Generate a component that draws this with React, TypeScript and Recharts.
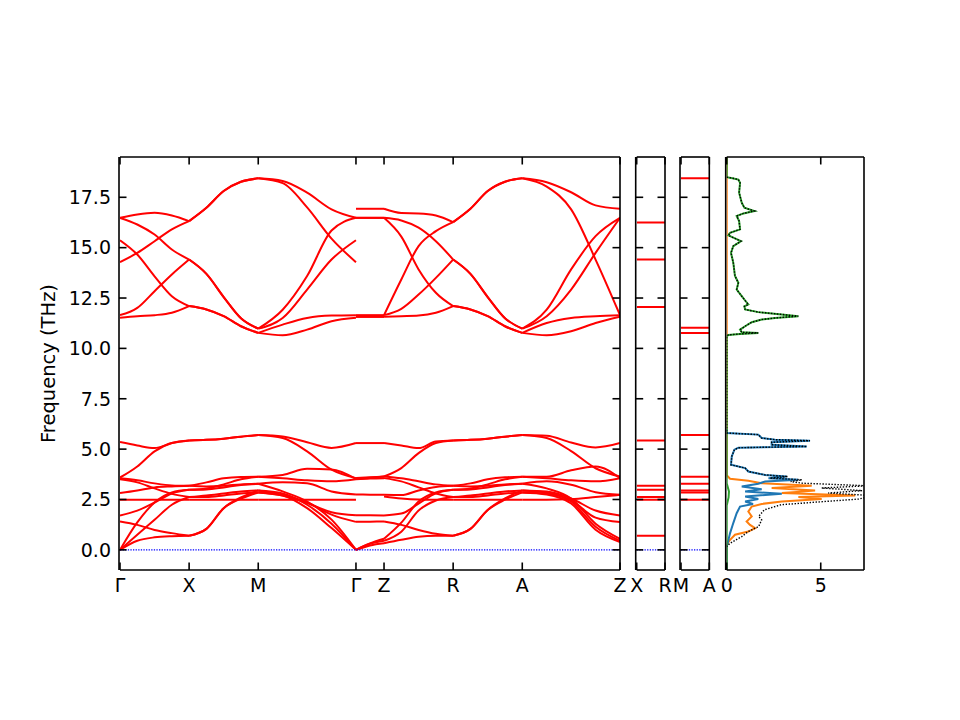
import React from 'react';
import { LineChart, Line, XAxis, YAxis } from 'recharts';

const FONT = '"DejaVu Sans", Verdana, sans-serif';
const RED = '#ff0000';

// frequency axis (THz), shared by all four panels
const FREQ_RANGE: [number, number] = [-1, 19.5];
const FREQ_TICKS = [0, 2.5, 5, 7.5, 10, 12.5, 15, 17.5];

// q-path Γ-X-M-Γ-Z-R-A-Z, distance in units of |Γ-X|
const PATH_LABELS = ['Γ', 'X', 'M', 'Γ', 'Z', 'R', 'A', 'Z'];
const PATH_K = [0, 1, 2, 3.414, 3.82, 4.82, 5.82, 7.234];
const KZ_LEN = 0.406; // X-R and M-A legs

// bands: frequency at evenly spaced q-points along each segment
const GX_BANDS = [
  [16.48, 16.65, 16.73, 16.6, 16.32],
  [14.28, 14.74, 15.32, 15.91, 16.32],
  [16.48, 16.15, 15.65, 14.91, 14.41],
  [15.37, 14.66, 13.58, 12.59, 12.1],
  [11.65, 12.01, 12.84, 13.67, 14.41],
  [11.52, 11.6, 11.65, 11.77, 12.1],
  [5.35, 5.18, 5.05, 5.3, 5.43],
  [3.59, 4.14, 4.89, 5.3, 5.43],
  [3.55, 3.45, 3.3, 3.2, 3.18],
  [3.5, 3.35, 3.05, 2.78, 2.62],
  [2.82, 2.95, 3.1, 3.15, 3.18],
  [2.49, 2.49, 2.49, 2.49, 2.49],
  [1.71, 1.95, 2.35, 2.8, 2.98],
  [1.41, 1.24, 0.99, 0.83, 0.7],
  [0, 0.45, 0.62, 0.68, 0.7],
  [0, 0.75, 1.49, 2.24, 2.62],
  [0, 1.36, 2.35, 2.85, 2.98],
];

const XM_BANDS = [
  [16.32, 16.98, 17.81, 18.27, 18.44],
  [16.32, 16.98, 17.81, 18.27, 18.44],
  [14.41, 13.7, 12.55, 11.5, 10.98],
  [14.41, 13.7, 12.55, 11.5, 10.98],
  [12.1, 11.93, 11.6, 11.1, 10.77],
  [12.1, 11.93, 11.6, 11.1, 10.77],
  [5.43, 5.46, 5.52, 5.62, 5.7],
  [5.43, 5.46, 5.52, 5.62, 5.7],
  [3.18, 3.35, 3.55, 3.62, 3.63],
  [2.62, 2.7, 2.8, 2.9, 2.95],
  [3.18, 3.15, 3.18, 3.25, 3.28],
  [2.49, 2.49, 2.49, 2.49, 2.49],
  [2.98, 3.0, 3.1, 3.22, 3.28],
  [0.7, 1.04, 2.07, 2.6, 2.95],
  [0.7, 1.04, 2.07, 2.54, 2.85],
  [2.62, 2.62, 2.7, 2.8, 2.85],
  [2.98, 3.05, 3.25, 3.5, 3.63],
];

const MG_BANDS = [
  [18.44, 18.31, 17.73, 16.9, 16.48],
  [18.44, 18.2, 17.0, 15.45, 14.28],
  [10.98, 11.92, 13.59, 15.85, 16.48],
  [10.98, 11.51, 12.92, 14.41, 15.37],
  [10.77, 11.18, 11.51, 11.63, 11.65],
  [10.77, 10.65, 10.93, 11.35, 11.52],
  [5.7, 5.63, 5.34, 5.06, 5.3],
  [5.7, 5.55, 4.89, 3.98, 3.56],
  [3.63, 3.72, 4.02, 3.99, 3.52],
  [3.63, 3.55, 3.45, 3.4, 3.5],
  [3.28, 3.35, 3.3, 2.9, 2.75],
  [2.49, 2.49, 2.49, 2.49, 2.49],
  [2.95, 2.73, 2.32, 1.87, 1.72],
  [2.85, 2.7, 2.35, 1.75, 1.39],
  [2.85, 2.7, 2.07, 1.08, 0],
  [2.95, 2.8, 2.24, 1.3, 0],
  [3.28, 2.9, 2.4, 1.5, 0],
];

const GZ_BANDS = [
  [16.93, 16.93, 16.93],
  [16.48, 16.48, 16.48],
  [16.48, 16.48, 16.48],
  [11.65, 11.65, 11.65],
  [11.57, 11.57, 11.57],
  [11.57, 11.57, 11.57],
  [5.3, 5.3, 5.3],
  [3.56, 3.6, 3.64],
  [3.52, 3.58, 3.64],
  [3.5, 3.54, 3.56],
  [2.75, 2.74, 2.73],
  [1.72, 1.72, 1.71],
  [1.39, 1.4, 1.41],
  [0, 0.22, 0.33],
  [0, 0.3, 0.45],
  [0, 0.32, 0.55],
];

const ZR_BANDS = [
  [16.93, 16.72, 16.7, 16.6, 16.27],
  [16.48, 16.35, 15.99, 15.32, 14.41],
  [16.48, 15.55, 13.92, 12.76, 12.1],
  [11.65, 13.42, 15.08, 15.82, 16.27],
  [11.65, 11.96, 12.67, 13.5, 14.41],
  [11.57, 11.6, 11.63, 11.77, 12.1],
  [5.3, 5.18, 5.05, 5.38, 5.43],
  [3.64, 4.06, 4.8, 5.3, 5.43],
  [3.64, 3.55, 3.4, 3.25, 3.18],
  [3.56, 3.4, 3.1, 2.8, 2.62],
  [2.73, 2.72, 2.95, 3.12, 3.18],
  [2.65, 2.55, 2.5, 2.49, 2.49],
  [1.71, 1.8, 2.3, 2.8, 2.98],
  [1.41, 1.24, 0.99, 0.8, 0.7],
  [0.33, 0.5, 0.65, 0.7, 0.7],
  [0.45, 0.9, 1.95, 2.45, 2.62],
  [0.55, 1.35, 2.4, 2.85, 2.98],
];

const RA_BANDS = [
  [16.27, 16.93, 17.81, 18.27, 18.44],
  [16.27, 16.93, 17.81, 18.27, 18.44],
  [14.41, 13.7, 12.55, 11.5, 10.98],
  [14.41, 13.7, 12.55, 11.5, 10.98],
  [12.1, 11.93, 11.6, 11.1, 10.77],
  [12.1, 11.93, 11.6, 11.1, 10.77],
  [5.43, 5.46, 5.52, 5.62, 5.7],
  [5.43, 5.46, 5.52, 5.62, 5.7],
  [3.18, 3.3, 3.5, 3.6, 3.63],
  [2.62, 2.7, 2.8, 2.9, 2.95],
  [3.18, 3.15, 3.18, 3.25, 3.28],
  [2.49, 2.49, 2.49, 2.49, 2.49],
  [2.98, 3.0, 3.1, 3.22, 3.28],
  [0.7, 1.04, 1.98, 2.55, 2.95],
  [0.7, 1.04, 1.98, 2.49, 2.85],
  [2.62, 2.62, 2.7, 2.8, 2.85],
  [2.98, 3.05, 3.25, 3.5, 3.63],
];

const AZ_BANDS = [
  [18.44, 18.25, 17.75, 17.1, 16.93],
  [18.44, 18.03, 16.9, 14.41, 11.65],
  [10.98, 11.92, 13.92, 15.57, 16.48],
  [10.98, 11.6, 12.92, 14.74, 16.48],
  [10.77, 11.26, 11.51, 11.6, 11.65],
  [10.77, 10.65, 10.85, 11.26, 11.57],
  [5.7, 5.66, 5.33, 5.08, 5.3],
  [5.7, 5.55, 4.9, 4.05, 3.64],
  [3.63, 3.63, 3.95, 4.14, 3.56],
  [3.63, 3.55, 3.45, 3.4, 3.56],
  [3.28, 3.4, 3.23, 2.86, 2.73],
  [2.49, 2.49, 2.52, 2.62, 2.73],
  [2.95, 2.9, 2.55, 1.95, 1.71],
  [2.85, 2.8, 2.45, 1.6, 1.38],
  [2.85, 2.75, 2.3, 1.0, 0.39],
  [2.95, 2.85, 2.4, 1.15, 0.45],
  [3.28, 3.05, 2.55, 1.3, 0.55],
];

const SEGMENTS = [GX_BANDS, XM_BANDS, MG_BANDS, GZ_BANDS, ZR_BANDS, RA_BANDS, AZ_BANDS];

// flat bands along the kz legs
const XR_LABELS = ['X', 'R'];
const XR_LEVELS = [16.25, 14.41, 12.06, 5.43, 3.18, 2.98, 2.62, 2.49, 0.7];
const MA_LABELS = ['M', 'A'];
const MA_LEVELS = [18.44, 11.02, 10.77, 5.7, 3.63, 3.28, 2.95, 2.85, 2.49];

// density of states, [frequency, DOS]
const DOS_RANGE: [number, number] = [0, 7.3];
const DOS_TICKS = [0, 5];

const DOS_ORANGE: [number, number][] = [
  [19.5, 0], [3.7, 0], [3.53, 0.18], [3.43, 1.15], [3.31, 1.86], [3.18, 4.52], [3.07, 2.39],
  [2.94, 4.7], [2.82, 2.93], [2.7, 6.83], [2.62, 3.81], [2.52, 5.05], [2.4, 2.93], [2.28, 1.86],
  [2.15, 1.33], [1.9, 1.15], [1.66, 1.33], [1.41, 1.06], [1.24, 1.24], [1.08, 1.51], [0.91, 1.15],
  [0.75, 0.44], [0.5, 0.18], [0.25, 0], [-1, 0],
];

const DOS_BLUE: [number, number][] = [
  [6.0, 0], [5.8, 0], [5.72, 1.68], [5.55, 1.86], [5.47, 2.57], [5.42, 4.43], [5.34, 2.39],
  [5.22, 2.39], [5.13, 4.26], [5.07, 0.62], [4.97, 0.41], [4.64, 0.27], [4.22, 0.23], [4.06, 0.98],
  [3.89, 1.15], [3.72, 2.04], [3.64, 3.19], [3.56, 2.22], [3.48, 3.81], [3.39, 2.04], [3.28, 1.68],
  [3.14, 0.8], [3.01, 1.86], [2.9, 0.98], [2.78, 2.93], [2.65, 0.98], [2.52, 1.68], [2.4, 0.98],
  [2.28, 1.4], [2.15, 0.71], [1.82, 0.53], [1.33, 0.35], [0.83, 0.18], [0.33, 0.05], [0.17, 0], [-1, 0],
];

const DOS_GREEN: [number, number][] = [
  [19.5, 0], [18.5, 0], [18.45, 0.3], [18.38, 0.62], [18.22, 0.71], [17.73, 0.66], [17.23, 0.8],
  [16.98, 0.94], [16.82, 1.47], [16.7, 0.89], [16.57, 0.53], [16.32, 0.66], [15.91, 0.71],
  [15.74, 0.18], [15.61, 0.09], [15.32, 0.76], [15.08, 0.35], [14.74, 0.23], [14.25, 0.35],
  [13.59, 0.44], [13.26, 0.62], [12.92, 0.53], [12.59, 0.8], [12.34, 1.01], [12.18, 1.15],
  [12.09, 0.94], [11.93, 0.98], [11.8, 1.68], [11.71, 2.66], [11.6, 3.81], [11.51, 2.57],
  [11.43, 1.86], [11.3, 1.33], [11.1, 0.98], [10.93, 0.71], [10.8, 0.8], [10.77, 1.68],
  [10.72, 0.71], [10.67, 0.09], [10.6, 0], [3.3, 0], [2.9, 0.12], [2.6, 0.1], [2.2, 0], [-1, 0],
];

const DOS_TOTAL: [number, number][] = [
  [18.5, 0], [18.45, 0.3], [18.38, 0.62], [18.22, 0.71], [17.73, 0.66], [17.23, 0.8],
  [16.98, 0.94], [16.82, 1.47], [16.7, 0.89], [16.57, 0.53], [16.32, 0.66], [15.91, 0.71],
  [15.74, 0.18], [15.61, 0.09], [15.32, 0.76], [15.08, 0.35], [14.74, 0.23], [14.25, 0.35],
  [13.59, 0.44], [13.26, 0.62], [12.92, 0.53], [12.59, 0.8], [12.34, 1.01], [12.18, 1.15],
  [12.09, 0.94], [11.93, 0.98], [11.8, 1.68], [11.71, 2.66], [11.6, 3.81], [11.51, 2.57],
  [11.43, 1.86], [11.3, 1.33], [11.1, 0.98], [10.93, 0.71], [10.8, 0.8], [10.77, 1.68],
  [10.72, 0.71], [10.67, 0.09], [10.6, 0], [5.8, 0], [5.72, 1.68], [5.55, 1.86], [5.47, 2.57],
  [5.42, 4.43], [5.34, 2.39], [5.22, 2.39], [5.13, 4.26], [5.07, 0.62], [4.97, 0.41], [4.64, 0.27],
  [4.22, 0.23], [4.06, 0.98], [3.89, 1.15], [3.72, 2.04], [3.64, 3.25], [3.56, 2.3], [3.48, 4.0],
  [3.39, 3.4], [3.31, 4.0], [3.18, 7.5], [3.07, 5.05], [2.94, 7.2], [2.82, 5.4], [2.7, 7.6],
  [2.62, 7.5], [2.52, 7.0], [2.4, 5.2], [2.24, 2.9], [1.99, 2.0], [1.66, 1.7], [1.49, 1.86],
  [1.16, 1.7], [0.91, 1.15], [0.66, 0.8], [0.33, 0.18], [0.17, 0],
];

type KPt = { k: number; f: number };

const bandSeries: KPt[][] = SEGMENTS.flatMap((bands, s) =>
  bands.map((vals) =>
    vals.map((f, i) => ({ k: PATH_K[s] + ((PATH_K[s + 1] - PATH_K[s]) * i) / (vals.length - 1), f }))
  )
);
const flatSeries = (levels: number[]): KPt[][] => levels.map((f) => [{ k: 0, f }, { k: KZ_LEN, f }]);
const zeroLine = (k1: number): KPt[] => [{ k: 0, f: 0 }, { k: k1, f: 0 }];
const dosPts = (pairs: [number, number][]) => pairs.map(([f, d]) => ({ f, d }));

const W = 960;
const H = 720;
const PLOT_TOP = 157;
const PLOT_BOTTOM = 570;

// every axis is 1px deep; the left side carries two (frame/ticks + labels)
const plotMargin = (left: number, right: number) => ({
  top: PLOT_TOP - 1,
  bottom: H - PLOT_BOTTOM - 1,
  left: left - 2,
  right: W - right - 1,
});

const spine = { stroke: '#000', strokeWidth: 1.6 };
const tickText = { fill: '#000', fontSize: 19, fontFamily: FONT };
const TICK_LEN = 7.5;

type Side = 'top' | 'bottom' | 'left' | 'right';
const IN_DIR: Record<Side, [number, number]> = { top: [0, 1], bottom: [0, -1], left: [1, 0], right: [-1, 0] };

// tick mark drawn from the spine into the plot
const inwardTick = (side: Side) => (props: any) => {
  const [dx, dy] = IN_DIR[side];
  return (
    <line x1={props.x} y1={props.y} x2={props.x + dx * TICK_LEN} y2={props.y + dy * TICK_LEN}
      stroke="#000" strokeWidth={1.6} />
  );
};

// bottom axis: inward tick plus its label below the spine
const bottomTick = (fmt?: (v: number, i: number) => string) => (props: any) => {
  const v = props.payload.value;
  return (
    <g>
      <line x1={props.x} y1={props.y} x2={props.x} y2={props.y - TICK_LEN} stroke="#000" strokeWidth={1.6} />
      <text x={props.x} y={props.y + 9} dy="0.71em" textAnchor="middle" fill="#000" fontSize={19}
        fontFamily={FONT}>{fmt ? fmt(v, props.index) : String(v)}</text>
    </g>
  );
};

function frame(
  xDomain: [number, number],
  xTicks: number[],
  xFmt: ((v: number, i: number) => string) | undefined,
  xKey: string | undefined,
  yKey: string | undefined,
  yLabels: boolean,
  yReversed = false
) {
  const xCommon = {
    type: 'number' as const, dataKey: xKey, domain: xDomain, ticks: xTicks, interval: 0, allowDataOverflow: true, height: 1,
  };
  const yCommon = {
    type: 'number' as const, domain: FREQ_RANGE, ticks: FREQ_TICKS, interval: 0, allowDataOverflow: true,
    width: 1, reversed: yReversed,
  };
  const edge = { tickSize: 0, tickMargin: 0, tickLine: false, axisLine: spine };
  return [
    <XAxis key="xb" xAxisId={0} {...xCommon} {...edge} tick={bottomTick(xFmt)} />,
    <XAxis key="xt" xAxisId="top" orientation="top" {...xCommon} {...edge} tick={inwardTick('top')} />,
    <YAxis key="ylt" yAxisId="lt" {...yCommon} {...edge} tick={inwardTick('left')} />,
    <YAxis key="yr" yAxisId="right" orientation="right" {...yCommon} {...edge} tick={inwardTick('right')} />,
    <YAxis key="yl" yAxisId={0} {...yCommon} dataKey={yKey} tickSize={0} tickMargin={9}
      tick={yLabels ? tickText : false} tickFormatter={(v: number) => v.toFixed(1)} axisLine={false} tickLine={false}
      label={yLabels ? {
        value: 'Frequency (THz)', angle: -90, position: 'left', offset: 71,
        style: { textAnchor: 'middle', fill: '#000', fontSize: 19.5, fontFamily: FONT },
      } : undefined} />,
  ];
}

const layer: React.CSSProperties = { position: 'absolute', left: 0, top: 0 };

function bandLine(pts: KPt[], i: number, curved: boolean) {
  return (
    <Line key={i} data={pts} dataKey="f" type={curved ? 'monotone' : 'linear'} stroke={RED} strokeWidth={2}
      dot={false} activeDot={false} isAnimationActive={false} />
  );
}

// the zero line is plotted against the top axis so that axis gets a scale too
function zeroSeries(k1: number) {
  return (
    <Line key="zero" xAxisId="top" data={zeroLine(k1)} dataKey="f" type="linear" stroke="#0000ff" strokeWidth={1.3}
      strokeDasharray="1.3 1.3" dot={false} activeDot={false} isAnimationActive={false} />
  );
}

function KzPanel({ left, right, labels, levels }: { left: number; right: number; labels: string[]; levels: number[] }) {
  return (
    <div style={layer}>
      <LineChart width={W} height={H} margin={plotMargin(left, right)}>
        {frame([0, KZ_LEN], [0, KZ_LEN], (_v, i) => labels[i], 'k', undefined, false)}
        {flatSeries(levels).map((pts, i) => bandLine(pts, i, false))}
        {zeroSeries(KZ_LEN)}
      </LineChart>
    </div>
  );
}

export default function App() {
  const kEnd = PATH_K[PATH_K.length - 1];
  const dosLine = (key: string, pairs: [number, number][], color: string, width: number, dash?: string, xId: string | number = 0) => (
    <Line key={key} xAxisId={xId} data={dosPts(pairs)} dataKey="d" type="linear" stroke={color} strokeWidth={width}
      strokeDasharray={dash} dot={false} activeDot={false} isAnimationActive={false} />
  );
  return (
    <div style={{ position: 'absolute', left: 0, top: 0, width: W, height: H, background: '#fff' }}>
      <div style={layer}>
        <LineChart width={W} height={H} margin={plotMargin(120, 620)}>
          {frame([0, kEnd], PATH_K, (_v, i) => PATH_LABELS[i], 'k', undefined, true)}
          {bandSeries.map((pts, i) => bandLine(pts, i, true))}
          {zeroSeries(kEnd)}
        </LineChart>
      </div>
      <KzPanel left={636.7} right={665} labels={XR_LABELS} levels={XR_LEVELS} />
      <KzPanel left={681} right={709.3} labels={MA_LABELS} levels={MA_LEVELS} />
      <div style={layer}>
        <LineChart layout="vertical" width={W} height={H} margin={plotMargin(726.7, 864)}>
          {frame(DOS_RANGE, DOS_TICKS, undefined, undefined, 'f', false, true)}
          {dosLine('orange', DOS_ORANGE, '#ff7f0e', 2)}
          {dosLine('blue', DOS_BLUE, '#1f77b4', 2)}
          {dosLine('green', DOS_GREEN, '#2ca02c', 2, undefined, 'top')}
          {dosLine('total', DOS_TOTAL, '#000', 1.4, '1.4 1.6')}
        </LineChart>
      </div>
    </div>
  );
}
